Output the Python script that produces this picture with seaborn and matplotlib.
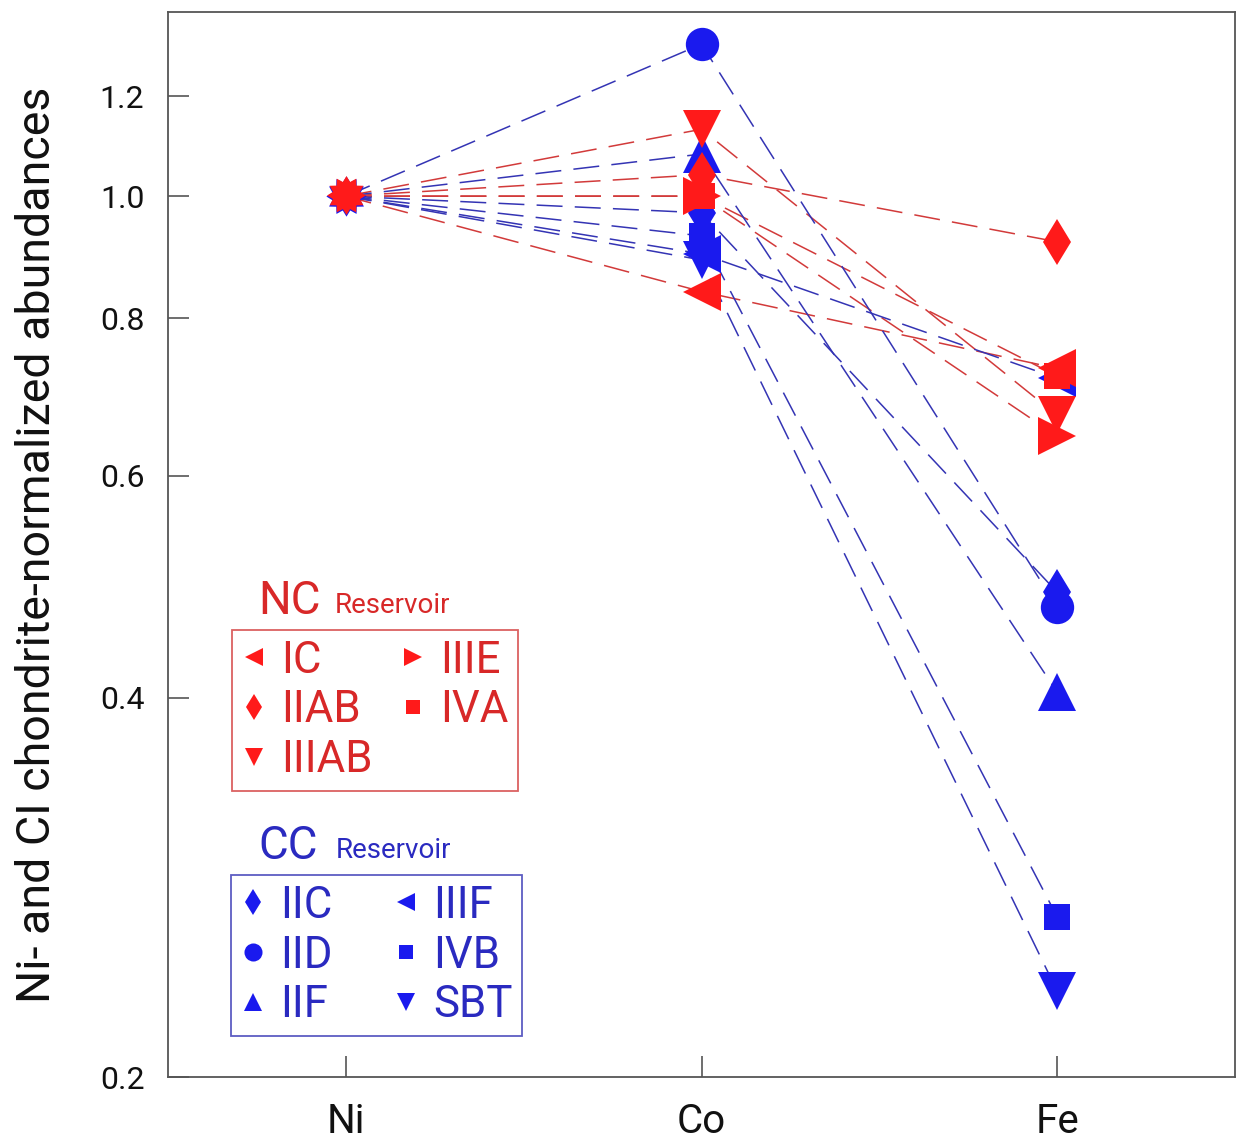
import numpy as np
import pandas as pd
import matplotlib
matplotlib.use("Agg")
import matplotlib.pyplot as plt
from matplotlib.lines import Line2D
from matplotlib.path import Path
import seaborn as sns

# =========================================================
# DATA
# =========================================================
elements = ["Ni", "Co", "Fe"]

nc_groups = ["IC", "IIAB", "IIIAB", "IIIE", "IVA"]
nc_markers = ["<", "d", "v", ">", "s"]
nc_co = [0.84, 1.04, 1.13, 1.00, 1.00]
nc_fe = [0.73, 0.92, 0.67, 0.645, 0.72]

cc_groups = ["IIC", "IID", "IIF", "IIIF", "IVB", "SBT"]
cc_markers = ["d", "o", "^", "<", "s", "v"]
cc_co = [0.97, 1.32, 1.08, 0.90, 0.93, 0.89]
cc_fe = [0.485, 0.472, 0.404, 0.717, 0.268, 0.234]

ni_value = 1.0

y_ticks = [0.2, 0.4, 0.6, 0.8, 1.0, 1.2]

# =========================================================
# STYLE
# =========================================================
RED = "#ff1a1a"
BLUE = "#1a1aee"
RED_LINE = "#d23a3a"
BLUE_LINE = "#3434b4"
RED_TEXT = "#d82828"
BLUE_TEXT = "#2a2ac0"
AXIS_GRAY = "#555555"

MARKER_SIZE = {"<": 27, ">": 27, "^": 27, "v": 27, "o": 24, "s": 19, "d": 23}

sns.set_style("ticks")
plt.rcParams["font.family"] = ["Roboto", "DejaVu Sans"]

# =========================================================
# LONG TABLE
# =========================================================
rows = []
for grp, co, fe in zip(nc_groups, nc_co, nc_fe):
    for el, v in zip(elements, [ni_value, co, fe]):
        rows.append({"group": grp, "res": "NC", "x": elements.index(el), "value": v})
for grp, co, fe in zip(cc_groups, cc_co, cc_fe):
    for el, v in zip(elements, [ni_value, co, fe]):
        rows.append({"group": grp, "res": "CC", "x": elements.index(el), "value": v})
df = pd.DataFrame(rows)

# =========================================================
# FIGURE
# =========================================================
fig = plt.figure(figsize=(12.37, 11.41), dpi=100)
ax = fig.add_axes([168 / 1237, 1 - 1077 / 1141, (1235 - 168) / 1237, (1077 - 12) / 1141])
ax.set_yscale("log")

line_palette = {g: RED_LINE for g in nc_groups}
line_palette.update({g: BLUE_LINE for g in cc_groups})

sns.lineplot(
    data=df,
    x="x",
    y="value",
    hue="group",
    units="group",
    estimator=None,
    sort=False,
    palette=line_palette,
    legend=False,
    linewidth=1.1,
    linestyle=(0, (17, 8)),
    ax=ax,
)

# markers at Co and Fe
def draw_markers(groups, markers, color):
    for grp, mk in zip(groups, markers):
        sub = df[(df["group"] == grp) & (df["x"] > 0)]
        ax.plot(
            sub["x"], sub["value"],
            linestyle="none",
            marker=mk,
            markersize=MARKER_SIZE[mk],
            color=color,
            markeredgewidth=0,
            zorder=4,
        )

draw_markers(cc_groups, cc_markers, BLUE)
draw_markers(nc_groups, nc_markers, RED)

# starburst at Ni
star = Path.unit_regular_star(12, 0.72)
ni = df[df["x"] == 0]
ax.plot(ni["x"].iloc[:1], ni["value"].iloc[:1], linestyle="none", marker=star,
        markersize=29, color=BLUE, markeredgewidth=0, zorder=4)
ax.plot(ni["x"].iloc[:1], ni["value"].iloc[:1] * 1.003, linestyle="none", marker=star,
        markersize=28, color=RED, markeredgewidth=0, zorder=5)

# =========================================================
# AXES
# =========================================================
ax.set_xlim(-0.5, 2.5)
ax.set_ylim(0.2, 1.4)
ax.set_xticks(range(len(elements)))
ax.set_xticklabels(elements)
ax.yaxis.set_major_locator(matplotlib.ticker.FixedLocator(y_ticks))
ax.yaxis.set_minor_locator(matplotlib.ticker.NullLocator())
ax.set_yticklabels([f"{v:.1f}" for v in y_ticks])

ax.tick_params(axis="y", direction="in", length=15, width=1.2, color=AXIS_GRAY,
               labelsize=23, pad=17, labelcolor="#111111")
ax.tick_params(axis="x", direction="in", length=15, width=1.2, color=AXIS_GRAY,
               labelsize=29, pad=18, labelcolor="#111111")
for side in ["left", "right", "top", "bottom"]:
    ax.spines[side].set_color(AXIS_GRAY)
    ax.spines[side].set_linewidth(1.3)

ax.set_xlabel("")
ax.set_ylabel("Ni- and CI chondrite-normalized abundances", fontsize=33.5,
              color="#111111", labelpad=29)

# =========================================================
# LEGENDS
# =========================================================
def make_handles(groups, markers, color):
    return [
        Line2D([], [], linestyle="none", marker=mk, color=color,
               markersize=13 if mk != "s" else 10, markeredgewidth=0, label=g)
        for g, mk in zip(groups, markers)
    ]

leg_kw = dict(
    ncol=2,
    loc="upper left",
    fontsize=31.5,
    frameon=True,
    fancybox=False,
    handlelength=0.57,
    handletextpad=0.33,
    labelspacing=0.18,
    borderpad=0.22,
    borderaxespad=0,
    bbox_transform=fig.transFigure,
)

nc_leg = ax.legend(handles=make_handles(nc_groups, nc_markers, RED),
                   bbox_to_anchor=(232 / 1237, 1 - 630 / 1141),
                   columnspacing=0.65, **leg_kw)
nc_leg.get_frame().set_edgecolor(RED_LINE)
nc_leg.get_frame().set_linewidth(1.3)
for t in nc_leg.get_texts():
    t.set_color(RED_TEXT)
ax.add_artist(nc_leg)

cc_leg = ax.legend(handles=make_handles(cc_groups, cc_markers, BLUE),
                   bbox_to_anchor=(231 / 1237, 1 - 875 / 1141),
                   columnspacing=1.4, **leg_kw)
cc_leg.get_frame().set_edgecolor(BLUE_LINE)
cc_leg.get_frame().set_linewidth(1.3)
for t in cc_leg.get_texts():
    t.set_color(BLUE_TEXT)

# reservoir titles
fig.text(258 / 1237, 1 - 614 / 1141, "NC", fontsize=33, color=RED_TEXT, va="baseline")
fig.text(335 / 1237, 1 - 613 / 1141, "Reservoir", fontsize=20, color=RED_TEXT, va="baseline")
fig.text(258 / 1237, 1 - 859 / 1141, "CC", fontsize=33, color=BLUE_TEXT, va="baseline")
fig.text(336 / 1237, 1 - 858 / 1141, "Reservoir", fontsize=20, color=BLUE_TEXT, va="baseline")

fig.savefig("out.png", dpi=100)
